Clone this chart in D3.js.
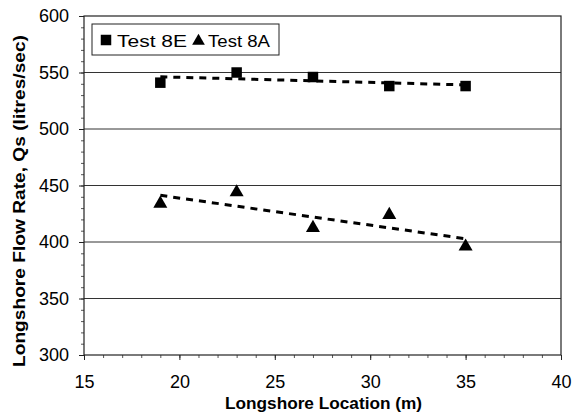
<!DOCTYPE html>
<html><head><meta charset="utf-8">
<script src="https://cdn.jsdelivr.net/npm/d3@7"></script>
<style>body{margin:0;background:#fff;}svg{display:block;font-family:Arial,"Liberation Sans",sans-serif;}</style>
</head><body><svg id="c" width="583" height="413"></svg>
<script>
const locations = [19, 23, 27, 31, 35];
const test8E = [541, 550, 546, 538, 538];
const test8A = [434, 444, 412.5, 424, 396];
const xTicks = [15, 20, 25, 30, 35, 40];
const yTicks = [300, 350, 400, 450, 500, 550, 600];

const svg = d3.select("#c");
const L = 84, R = 561, T = 16, B = 355;
const x = d3.scaleLinear().domain([15, 40]).range([L, R]);
const y = d3.scaleLinear().domain([300, 600]).range([B, T]);

// gridlines
svg.append("g").selectAll("line").data(yTicks.slice(1, -1)).join("line")
  .attr("x1", L).attr("x2", R).attr("y1", d => y(d)).attr("y2", d => y(d))
  .attr("stroke", "#333").attr("stroke-width", 1);

// minor ticks
svg.append("g").attr("transform", `translate(${L},0)`)
  .call(d3.axisLeft(y).tickValues(d3.range(300, 601, 10)).tickSize(3).tickFormat(""))
  .call(g => g.select(".domain").remove())
  .selectAll("line").attr("stroke", "#555");
svg.append("g").attr("transform", `translate(0,${B})`)
  .call(d3.axisBottom(x).tickValues(d3.range(15, 41, 1)).tickSize(3).tickFormat(""))
  .call(g => g.select(".domain").remove())
  .selectAll("line").attr("stroke", "#555");

// major axes
const ya = svg.append("g").attr("transform", `translate(${L},0)`)
  .call(d3.axisLeft(y).tickValues(yTicks).tickSize(5).tickPadding(10));
const xa = svg.append("g").attr("transform", `translate(0,${B})`)
  .call(d3.axisBottom(x).tickValues(xTicks).tickSize(5).tickPadding(15));
[ya, xa].forEach(a => {
  a.selectAll("text").attr("font-size", 18).attr("fill", "#000").attr("font-family", "Arial, 'Liberation Sans', sans-serif");
  a.selectAll("line").attr("stroke", "#222");
  a.select(".domain").remove();
});

// plot border
svg.append("rect").attr("x", L).attr("y", T).attr("width", R - L).attr("height", B - T)
  .attr("fill", "none").attr("stroke", "#222").attr("stroke-width", 1.2);

// trend lines (linear least squares)
function fit(xs, ys) {
  const mx = d3.mean(xs), my = d3.mean(ys);
  const sxy = d3.sum(xs, (v, i) => (v - mx) * (ys[i] - my));
  const sxx = d3.sum(xs, v => (v - mx) ** 2);
  const b = sxy / sxx, a = my - b * mx;
  const x0 = d3.min(xs), x1 = d3.max(xs);
  return [[x0, a + b * x0], [x1, a + b * x1]];
}
const line = d3.line().x(d => x(d[0])).y(d => y(d[1]));
[test8E, test8A].forEach(s => {
  svg.append("path").attr("d", line(fit(locations, s)))
    .attr("fill", "none").attr("stroke", "#000").attr("stroke-width", 3)
    .attr("stroke-dasharray", "7,6");
});

// markers
const sq = d3.symbol().type(d3.symbolSquare).size(110);
const tri = d3.symbol().type(d3.symbolTriangle).size(85);
svg.append("g").selectAll("path").data(locations).join("path")
  .attr("d", sq).attr("transform", (d, i) => `translate(${x(d)},${y(test8E[i])})`).attr("fill", "#000");
svg.append("g").selectAll("path").data(locations).join("path")
  .attr("d", tri).attr("transform", (d, i) => `translate(${x(d)},${y(test8A[i])})`).attr("fill", "#000");

// legend
const lg = svg.append("g");
lg.append("rect").attr("x", 92).attr("y", 24).attr("width", 187).attr("height", 31)
  .attr("fill", "#fff").attr("stroke", "#222").attr("stroke-width", 1);
lg.append("path").attr("d", d3.symbol().type(d3.symbolSquare).size(110)).attr("transform", "translate(106,40)");
lg.append("text").attr("x", 117).attr("y", 46.5).attr("font-size", 17)
  .attr("textLength", 70).attr("lengthAdjust", "spacingAndGlyphs").text("Test 8E");
lg.append("path").attr("d", d3.symbol().type(d3.symbolTriangle).size(70)).attr("transform", "translate(198.5,41)");
lg.append("text").attr("x", 208).attr("y", 46.5).attr("font-size", 17)
  .attr("textLength", 62).attr("lengthAdjust", "spacingAndGlyphs").text("Test 8A");

// axis titles
svg.append("text").attr("x", 323.5).attr("y", 409).attr("text-anchor", "middle")
  .attr("font-size", 17).attr("font-weight", "bold")
  .attr("textLength", 197).attr("lengthAdjust", "spacingAndGlyphs").text("Longshore Location (m)");
svg.append("text").attr("transform", `translate(25,201) rotate(-90)`).attr("text-anchor", "middle")
  .attr("font-size", 17).attr("font-weight", "bold")
  .attr("textLength", 332).attr("lengthAdjust", "spacingAndGlyphs").text("Longshore Flow Rate, Qs (litres/sec)");
</script></body></html>
